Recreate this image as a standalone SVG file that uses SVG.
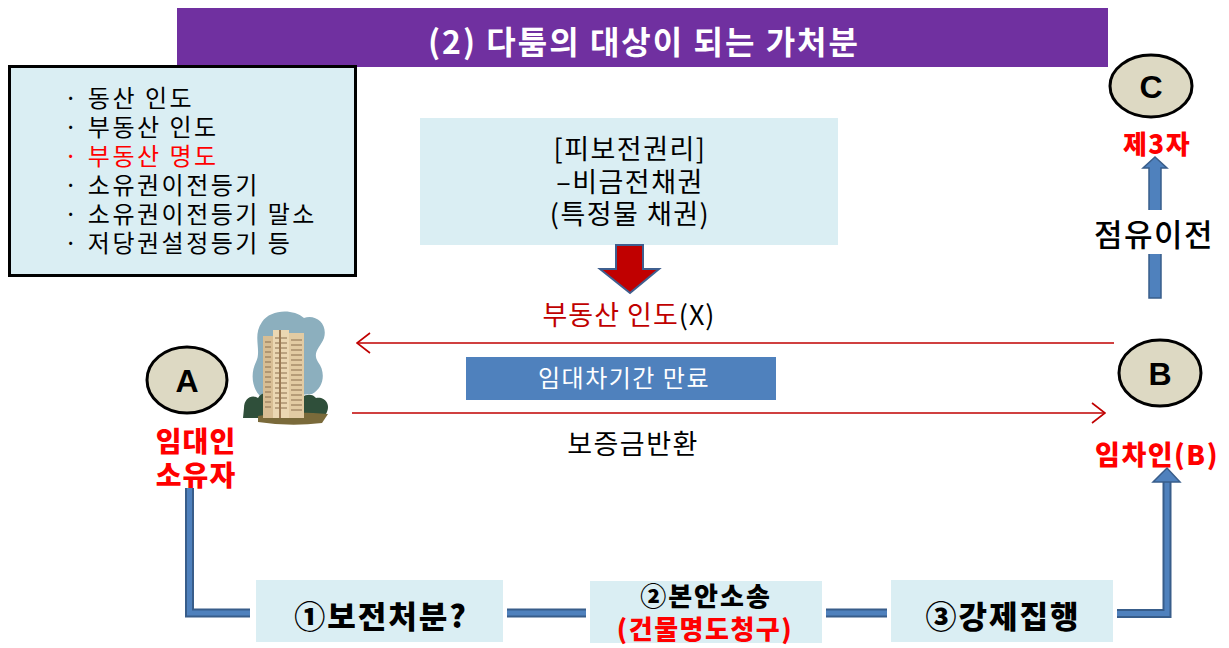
<svg xmlns="http://www.w3.org/2000/svg" width="1229" height="648" viewBox="0 0 1229 648">
  <defs>
    <style>
      text { font-family: "Noto Sans CJK KR", "Noto Sans", sans-serif; }
      .panel { fill: #DAEEF3; }
      .list { font-size: 24px; letter-spacing: 2.5px; fill: #000; }
      .red { fill: #FF0000; }
      .heavy { font-weight: 900; }
      .party { fill: #DDD9C3; stroke: #000; stroke-width: 3; }
      .letter { font-family: "Liberation Sans", Arial, sans-serif; font-weight: 700; font-size: 32px; fill: #000; text-anchor: middle; }
      .flow { fill: none; stroke: #C00000; stroke-width: 1.6; }
      .pipe-out { fill: none; stroke: #385D8A; stroke-width: 9; }
      .pipe-in { fill: none; stroke: #4F81BD; stroke-width: 5; }
      .block-arrow { fill: #4F81BD; stroke: #385D8A; stroke-width: 1.5; }
    </style>
    <!-- open chevron drawn along +x; orient="auto" turns it with the line -->
    <marker id="open" markerWidth="16" markerHeight="22" refX="15" refY="11" orient="auto" markerUnits="userSpaceOnUse">
      <path d="M2,1 L15,11 L2,21" fill="none" stroke="#C00000" stroke-width="1.6"/>
    </marker>
  </defs>

  <rect width="1229" height="648" fill="#FFFFFF"/>

  <!-- heading bar -->
  <g id="title">
    <rect x="177" y="8" width="931" height="59" fill="#7030A0"/>
    <text x="644" y="54" font-size="32" font-weight="700" letter-spacing="2" fill="#FFFFFF" text-anchor="middle">(2) 다툼의 대상이 되는 가처분</text>
  </g>

  <!-- list of possible objects -->
  <g id="objects-list">
    <rect x="9.5" y="66.5" width="346" height="209" class="panel" stroke="#000" stroke-width="3"/>
    <text class="list" x="64" y="107">· 동산 인도</text>
    <text class="list" x="64" y="136">· 부동산 인도</text>
    <text class="list red" x="64" y="165">· 부동산 명도</text>
    <text class="list" x="64" y="194">· 소유권이전등기</text>
    <text class="list" x="64" y="223">· 소유권이전등기 말소</text>
    <text class="list" x="64" y="252">· 저당권설정등기 등</text>
  </g>

  <!-- protected right -->
  <g id="protected-right">
    <rect x="420" y="118" width="418" height="127" class="panel"/>
    <text x="630" y="159" font-size="27" letter-spacing="1.5" text-anchor="middle">[피보전권리]</text>
    <text x="630" y="192" font-size="27" letter-spacing="1.5" text-anchor="middle">–비금전채권</text>
    <text x="630" y="224" font-size="27" letter-spacing="1.5" text-anchor="middle">(특정물 채권)</text>
    <path d="M616,245 H643 V269 H659 L630,293 L600,269 H616 Z" fill="#C00000" stroke="#3F5F8F" stroke-width="2"/>
  </g>

  <g id="delivery-label">
    <text x="629" y="325" font-size="27" letter-spacing="1" text-anchor="middle"><tspan fill="#C00000">부동산 인도</tspan><tspan fill="#000">(X)</tspan></text>
  </g>

  <!-- lease expiry -->
  <g id="lease-expiry">
    <rect x="466" y="357" width="310" height="43" fill="#4F81BD"/>
    <text x="624" y="387" font-size="24" letter-spacing="1.5" fill="#FFFFFF" text-anchor="middle">임대차기간 만료</text>
  </g>

  <g id="deposit-label">
    <text x="633" y="454" font-size="27" letter-spacing="1.5" text-anchor="middle">보증금반환</text>
  </g>

  <!-- building -->
  <g id="building">
    <path d="M262,322 C270,310 292,308 304,318 C316,314 328,324 324,338 C320,348 312,352 318,362 C326,372 324,388 312,394 L262,398 C252,390 250,374 256,362 C262,350 252,336 262,322 Z" fill="#8CAFBE"/>
    <path d="M244,408 C244,398 252,394 258,398 C262,390 274,392 276,400 L278,418 L243,418 Z" fill="#2F4F3A"/>
    <path d="M298,404 C300,394 312,392 316,398 C324,396 332,404 326,414 L320,418 L298,418 Z" fill="#2F4F3A"/>
    <path d="M258,416 Q290,410 328,414 L322,423 Q290,427 258,422 Z" fill="#7A6A3A"/>
    <rect x="263" y="336" width="10" height="82" fill="#D8BE94"/>
    <rect x="273" y="330" width="16" height="88" fill="#EBD7B2"/>
    <rect x="289" y="333" width="15" height="85" fill="#E2CBA3"/>
    <g stroke="#8A6E4E" stroke-width="1">
      <path d="M265,342 H271 M265,347 H271 M265,352 H271 M265,357 H271 M265,362 H271 M265,367 H271 M265,372 H271 M265,377 H271 M265,382 H271 M265,387 H271 M265,392 H271 M265,397 H271 M265,402 H271 M265,407 H271"/>
      <path d="M275,338 H287 M275,343 H287 M275,348 H287 M275,353 H287 M275,358 H287 M275,363 H287 M275,368 H287 M275,373 H287 M275,378 H287 M275,383 H287 M275,388 H287 M275,393 H287 M275,398 H287 M275,403 H287 M275,408 H287"/>
      <path d="M291,340 H302 M291,345 H302 M291,350 H302 M291,355 H302 M291,360 H302 M291,365 H302 M291,370 H302 M291,375 H302 M291,380 H302 M291,385 H302 M291,390 H302 M291,395 H302 M291,400 H302 M291,405 H302 M291,410 H302"/>
    </g>
    <path d="M280,330 V418" stroke="#9A7A55" stroke-width="2"/>
  </g>

  <!-- parties -->
  <g id="party-a">
    <ellipse cx="187" cy="380" rx="40" ry="33" class="party"/>
    <text class="letter" x="187" y="392">A</text>
    <text x="196" y="452" font-size="28" letter-spacing="1" class="red heavy" text-anchor="middle">임대인</text>
    <text x="196" y="486" font-size="28" letter-spacing="1" class="red heavy" text-anchor="middle">소유자</text>
  </g>

  <g id="party-b">
    <ellipse cx="1160" cy="373" rx="41" ry="33" class="party"/>
    <text class="letter" x="1160" y="385">B</text>
    <text x="1157" y="465" font-size="27" letter-spacing="1.5" class="red heavy" text-anchor="middle">임차인(B)</text>
  </g>

  <g id="party-c">
    <ellipse cx="1151" cy="86" rx="41" ry="31" class="party"/>
    <text class="letter" x="1151" y="98">C</text>
    <text x="1157" y="154" font-size="26" letter-spacing="1.5" class="red heavy" text-anchor="middle">제3자</text>
  </g>

  <!-- procedure steps -->
  <g id="step-1">
    <rect x="256" y="580" width="247" height="62" class="panel"/>
    <text x="381" y="628" font-size="31" font-weight="900" letter-spacing="2" text-anchor="middle">①보전처분?</text>
  </g>
  <g id="step-2">
    <rect x="590" y="581" width="232" height="62" class="panel"/>
    <text x="706" y="606" font-size="26" font-weight="900" letter-spacing="2" text-anchor="middle">②본안소송</text>
    <text x="705" y="639" font-size="26" letter-spacing="1.5" class="red heavy" text-anchor="middle">(건물명도청구)</text>
  </g>
  <g id="step-3">
    <rect x="891" y="580" width="222" height="62" class="panel"/>
    <text x="1003" y="628" font-size="31" font-weight="900" letter-spacing="2" text-anchor="middle">③강제집행</text>
  </g>

  <!-- connectors -->
  <g id="connectors">
    <line x1="1114" y1="343" x2="357" y2="343" class="flow" marker-end="url(#open)"/>
    <line x1="352" y1="413" x2="1105" y2="413" class="flow" marker-end="url(#open)"/>

    <path d="M189.5,488 V613 H250" class="pipe-out"/>
    <path d="M189.5,488 V613 H250" class="pipe-in"/>
    <path d="M507,613 H586" class="pipe-out"/>
    <path d="M507,613 H586" class="pipe-in"/>
    <path d="M826,613 H887" class="pipe-out"/>
    <path d="M826,613 H887" class="pipe-in"/>
    <path d="M1117,613.5 H1167 V482" class="pipe-out"/>
    <path d="M1117,613.5 H1167 V482" class="pipe-in"/>
    <path d="M1153,482 L1167,468 L1180,482 Z" class="block-arrow"/>

    <path d="M1149,298 V168 H1143 L1155,157 L1167,168 H1161 V298 Z" class="block-arrow"/>
    <rect x="1088" y="210" width="134" height="44" fill="#FFFFFF"/>
    <text x="1154" y="246" font-size="31" font-weight="500" letter-spacing="1.5" text-anchor="middle" fill="#000">점유이전</text>
  </g>
</svg>
